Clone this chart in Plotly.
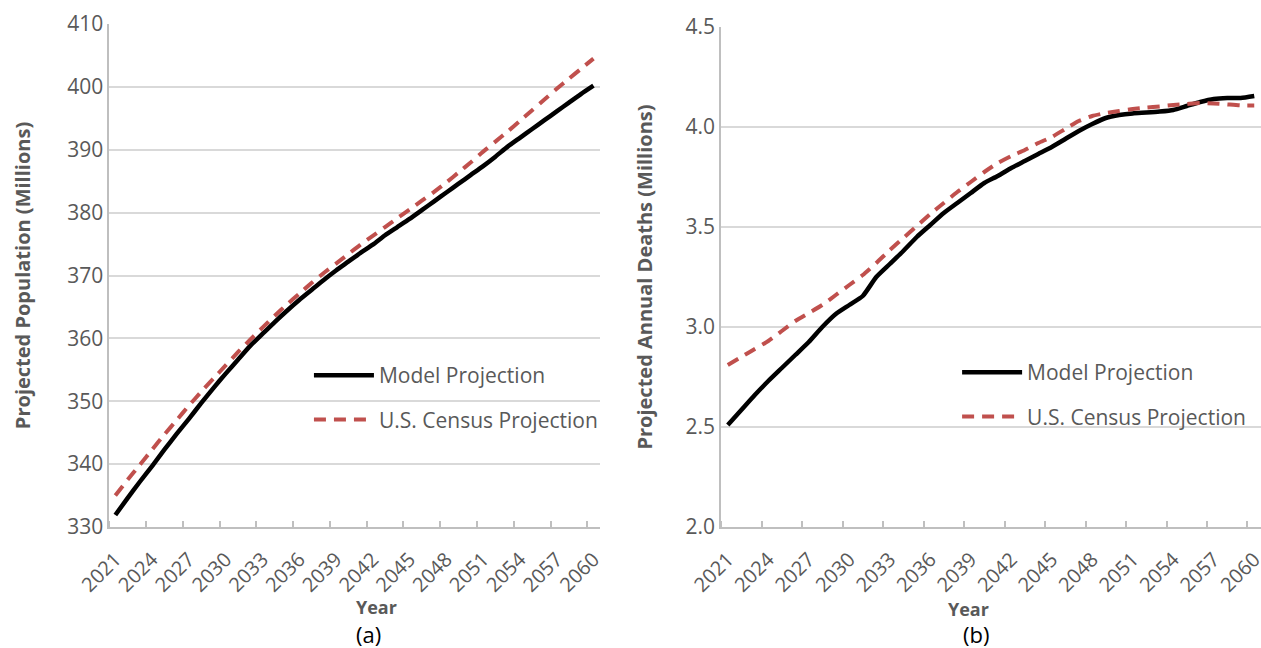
import plotly.graph_objects as go

years = list(range(2021, 2061))
tick_years = list(range(2021, 2061, 3))

model_pop = [331.9, 334.6, 337.2, 339.7, 342.3, 344.8, 347.2, 349.7, 352.1, 354.4,
             356.6, 358.8, 360.7, 362.6, 364.4, 366.1, 367.7, 369.3, 370.8, 372.2,
             373.6, 374.9, 376.4, 377.7, 379.0, 380.4, 381.8, 383.2, 384.6, 386.0,
             387.4, 388.9, 390.5, 391.9, 393.3, 394.7, 396.1, 397.5, 398.9, 400.2]
census_pop = [335.0, 337.5, 339.9, 342.3, 344.7, 347.0, 349.3, 351.5, 353.6, 355.7,
              357.8, 359.8, 361.7, 363.6, 365.4, 367.1, 368.8, 370.4, 371.9, 373.4,
              374.9, 376.3, 377.7, 379.1, 380.5, 381.9, 383.3, 384.8, 386.4, 388.0,
              389.7, 391.3, 392.9, 394.6, 396.3, 398.0, 399.7, 401.3, 402.9, 404.5]

model_deaths = [2.51, 2.585, 2.66, 2.73, 2.795, 2.86, 2.925, 3.00, 3.065, 3.11,
                3.155, 3.25, 3.315, 3.38, 3.45, 3.51, 3.57, 3.62, 3.67, 3.72,
                3.755, 3.795, 3.83, 3.865, 3.90, 3.94, 3.98, 4.015, 4.045, 4.06,
                4.068, 4.072, 4.077, 4.085, 4.105, 4.125, 4.14, 4.145, 4.145, 4.155]
census_deaths = [2.81, 2.85, 2.89, 2.93, 2.98, 3.03, 3.07, 3.11, 3.16, 3.21,
                 3.26, 3.32, 3.385, 3.445, 3.505, 3.565, 3.62, 3.675, 3.725, 3.775,
                 3.82, 3.855, 3.885, 3.92, 3.95, 3.99, 4.03, 4.055, 4.07, 4.08,
                 4.09, 4.097, 4.103, 4.11, 4.115, 4.12, 4.118, 4.113, 4.108, 4.108]

series_names = ["Model Projection", "U.S. Census Projection"]

BLACK = "#000000"
RED = "#c0504d"
GRAY_TXT = "#595959"
GRID = "#d9d9d9"
FONT = "Open Sans"

L_DOM = [0.0866, 0.4755]
R_DOM = [0.5718, 1.0]

fig = go.Figure()

def add(x, y, name, color, width, dash, xa, ya, leg, grp):
    fig.add_trace(go.Scatter(x=x, y=y, name=name, mode="lines",
                             line=dict(color=color, width=width, dash=dash,
                                       shape="spline", smoothing=0.5),
                             xaxis=xa, yaxis=ya, legend=leg, legendgroup=grp))

add(years, model_pop, series_names[0], BLACK, 4.5, "solid", "x", "y", "legend", "a1")
add(years, census_pop, series_names[1], RED, 4, "12px,8px", "x", "y", "legend", "a2")
add(years, model_deaths, series_names[0], BLACK, 4.5, "solid", "x2", "y2", "legend2", "b1")
add(years, census_deaths, series_names[1], RED, 4, "12px,8px", "x2", "y2", "legend2", "b2")

xcommon = dict(
    range=[2020.5, 2060.5], automargin=False, ticklabeloverflow="allow",
    tickmode="array", tickvals=tick_years, ticktext=[str(t) for t in tick_years],
    tickangle=-45, ticks="", ticklabelstandoff=11, showgrid=False, zeroline=False,
    showline=True, linecolor="#bfbfbf", linewidth=1.5,
    tickfont=dict(family=FONT, size=20, color=GRAY_TXT),
    minor=dict(tick0=2020.5, dtick=3, ticks="inside", ticklen=6, tickcolor="#bfbfbf",
               tickwidth=1.5, showgrid=False),
    fixedrange=True,
)

ycommon = dict(
    automargin=False, showgrid=True, gridcolor=GRID, gridwidth=1.5, zeroline=False,
    showline=True, linecolor="#bfbfbf", linewidth=1.5, ticks="",
    tickfont=dict(family=FONT, size=21, color=GRAY_TXT), fixedrange=True,
)

fig.update_layout(
    width=1261, height=648,
    margin=dict(l=0, r=0, t=0, b=0),
    paper_bgcolor="white", plot_bgcolor="white",
    font=dict(family=FONT, color=GRAY_TXT),
    xaxis=dict(domain=L_DOM, anchor="y", **xcommon),
    xaxis2=dict(domain=R_DOM, anchor="y2", **xcommon),
    yaxis=dict(domain=[1 - 527 / 648, 1 - 24 / 648], anchor="x", range=[330, 410], dtick=10,
               title=dict(text="<b>Projected Population (Millions)</b>",
                          font=dict(family=FONT, size=20, color=GRAY_TXT), standoff=31),
               **ycommon),
    yaxis2=dict(domain=[1 - 527 / 648, 1 - 27 / 648], anchor="x2", range=[2.0, 4.5], dtick=0.5,
                tickformat=".1f",
                title=dict(text="<b>Projected Annual Deaths (Millions)</b>",
                           font=dict(family=FONT, size=20, color=GRAY_TXT), standoff=28),
                **ycommon),
    legend=dict(x=0.245, y=1 - 355 / 648, xanchor="left", yanchor="top",
                bgcolor="rgba(255,255,255,0)", tracegroupgap=14, itemwidth=60,
                font=dict(family=FONT, size=21, color=GRAY_TXT)),
    legend2=dict(x=0.759, y=1 - 352 / 648, xanchor="left", yanchor="top",
                 bgcolor="rgba(255,255,255,0)", tracegroupgap=14, itemwidth=60,
                 font=dict(family=FONT, size=21, color=GRAY_TXT)),
    showlegend=True,
    annotations=[
        dict(text="<b>Year</b>", x=sum(L_DOM) / 2, y=1 - 607 / 648, xref="paper", yref="paper",
             yanchor="middle", showarrow=False, font=dict(family=FONT, size=18, color=GRAY_TXT)),
        dict(text="<b>Year</b>", x=sum(R_DOM) / 2, y=1 - 609 / 648, xref="paper", yref="paper",
             yanchor="middle", showarrow=False, font=dict(family=FONT, size=18, color=GRAY_TXT)),
        dict(text="(a)", x=sum(L_DOM) / 2, y=1 - 634 / 648, xref="paper", yref="paper",
             yanchor="middle", showarrow=False, font=dict(family=FONT, size=22, color="#000000")),
        dict(text="(b)", x=sum(R_DOM) / 2, y=1 - 634 / 648, xref="paper", yref="paper",
             yanchor="middle", showarrow=False, font=dict(family=FONT, size=22, color="#000000")),
    ],
)

fig.write_html("out.html")
